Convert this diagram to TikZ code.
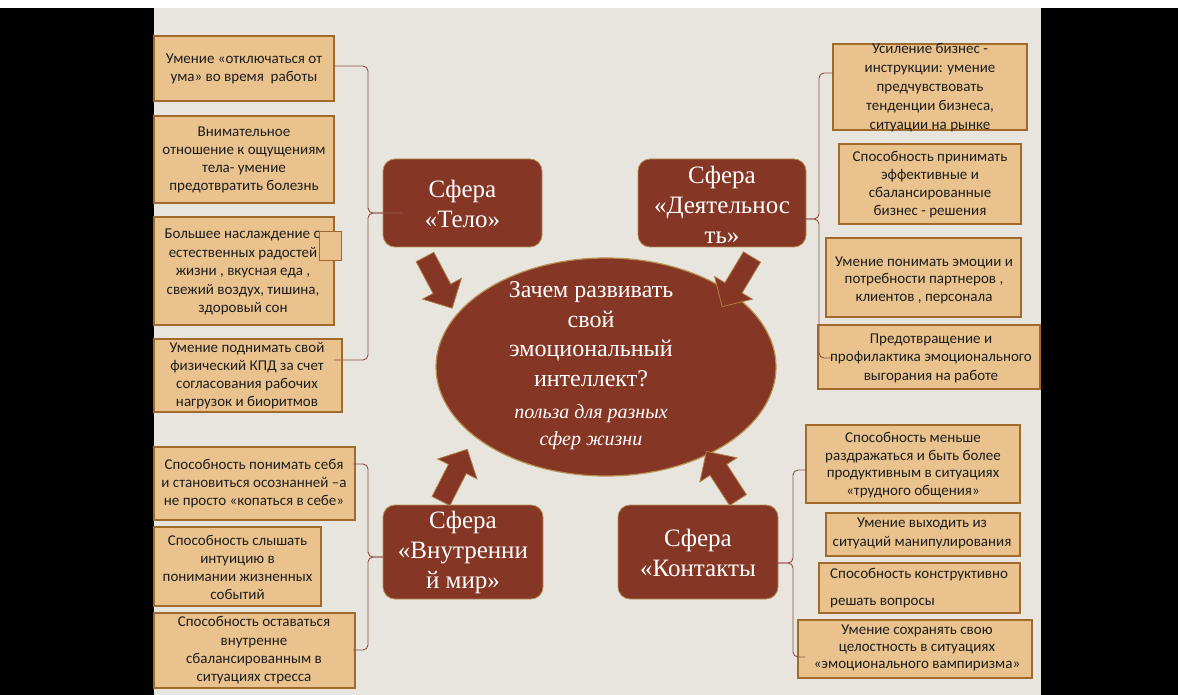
\documentclass[tikz,border=0pt]{standalone}
\usepackage{fontspec}
\setmainfont{Liberation Serif}
\newfontfamily\boxfont{Carlito}
\usetikzlibrary{shapes.geometric}
\definecolor{bgc}{HTML}{E7E5DE}
\definecolor{tanfill}{HTML}{E9C28D}
\definecolor{tanborder}{HTML}{A06A2C}
\definecolor{sphfill}{HTML}{853624}
\definecolor{goldb}{HTML}{B89050}
\definecolor{bracec}{HTML}{8E4F45}
\definecolor{textc}{HTML}{1E1E1E}
\newcommand\blockarrow[3]{%
  \filldraw[fill=sphfill, draw=goldb!80!sphfill, line width=0.8pt, shift={(#1,#2)}, rotate=#3]
    (0,-10) -- (36,-10) -- (36,-22) -- (58,0) -- (36,22) -- (36,10) -- (0,10) -- cycle;}
\begin{document}
\begin{tikzpicture}[x=1pt,y=-1pt,
  tanbox/.style={draw=tanborder, fill=tanfill, line width=1.3pt, inner sep=0pt},
  boxtext/.style={font=\boxfont\fontsize{15}{18}\selectfont, align=center, text=textc, inner sep=0pt},
  sphere/.style={draw=goldb, fill=sphfill, line width=0.8pt, rounded corners=12pt, inner sep=0pt},
  spheretext/.style={text=white, font=\fontsize{25}{30}\selectfont, align=center, inner sep=0pt},
  brace/.style={draw=bracec, line width=0.9pt, rounded corners=5pt}]
\useasboundingbox (0,0) rectangle (1178,695);
\fill[white] (0,0) rectangle (1178,8);
\fill[black] (0,8) rectangle (154,695);
\fill[black] (1041,8) rectangle (1178,695);
\fill[bgc] (154,8) rectangle (1041,695);

% central ellipse
\node[ellipse, draw=goldb, fill=sphfill, line width=1.2pt, minimum width=340, minimum height=218, inner sep=0pt] (E) at (606,367) {};

% sphere boxes
\node[sphere, minimum width=159, minimum height=88] (Telo) at (462.5,203) {};
\node[sphere, minimum width=168, minimum height=88] (Deyat) at (722,203) {};
\node[sphere, minimum width=160, minimum height=94] (Vnutr) at (463,552) {};
\node[sphere, minimum width=160, minimum height=94] (Kont) at (698,552) {};

% block arrows
\blockarrow{425}{257}{-62}
\blockarrow{752}{257}{-121}
\blockarrow{441}{501}{63}
\blockarrow{738}{500}{123}

% tan boxes
\node[tanbox, minimum width=180, minimum height=65] (A1) at (244,68.5) {};
\node[tanbox, minimum width=180, minimum height=87] (A2) at (244,159.5) {};
\node[tanbox, minimum width=180, minimum height=108] (A3) at (244,271) {};
\node[tanbox, minimum width=188, minimum height=73] (A4) at (248,375.5) {};
\node[tanbox, minimum width=201, minimum height=73] (D1) at (254.5,483.5) {};
\node[tanbox, minimum width=167, minimum height=79] (D2) at (237.5,566.5) {};
\node[tanbox, minimum width=201, minimum height=75] (D3) at (254.5,650.5) {};
\node[tanbox, minimum width=194, minimum height=86] (B1) at (930,87) {};
\node[tanbox, minimum width=182, minimum height=80] (B2) at (930,184) {};
\node[tanbox, minimum width=195, minimum height=79] (B3) at (923.5,277.5) {};
\node[tanbox, minimum width=222, minimum height=64] (B4) at (929,357) {};
\node[tanbox, minimum width=214, minimum height=78] (C1) at (913,464) {};
\node[tanbox, minimum width=194, minimum height=43] (C2) at (923,534.5) {};
\node[tanbox, minimum width=201, minimum height=50] (C3) at (919.5,588) {};
\node[tanbox, minimum width=234, minimum height=58] (C4) at (915,649) {};

% braces
\coordinate (lt1) at (334,66);  \coordinate (lt2) at (334,360);
\coordinate (ltm) at (368,213); \coordinate (lttip) at (402,213);
\coordinate (lb1) at (353,464); \coordinate (lb2) at (353,650);
\coordinate (lbm) at (368,557); \coordinate (lbtip) at (383,557);
\coordinate (rt1) at (833,73);  \coordinate (rt2) at (833,358);
\coordinate (rtm) at (819,219); \coordinate (rttip) at (806,219);
\coordinate (rb1) at (806,470); \coordinate (rb2) at (805,657);
\coordinate (rbm) at (793,563); \coordinate (rbtip) at (778,563);
\draw[brace] (lt1) -| (ltm) -- (lttip);
\draw[brace] (lt2) -| (ltm) -- (lttip);
\draw[brace] (lb1) -| (lbm) -- (lbtip);
\draw[brace] (lb2) -| (lbm) -- (lbtip);
\draw[brace] (rt1) -| (rtm) -- (rttip);
\draw[brace] (rt2) -| (rtm) -- (rttip);
\draw[brace] (rb1) -| (rbm) -- (rbtip);
\draw[brace] (rb2) -| (rbm) -- (rbtip);

% texts in tan boxes
\node[boxtext] (A1t) at (244,69) {Умение «отключаться от\\ума» во время\ \ работы};
\node[boxtext] (A2t) at (244,160) {Внимательное\\отношение к ощущениям\\тела- умение\\предотвратить болезнь};
\node[boxtext, font=\boxfont\fontsize{15}{18.5}\selectfont] (A3t) at (243,272) {Большее наслаждение о\\естественных радостей\\жизни , вкусная еда ,\\свежий воздух, тишина,\\здоровый сон};
\node[tanbox, minimum width=22, minimum height=28, line width=1pt] (A3s) at (330,246) {};
\node[boxtext] (A4t) at (247,375.5) {Умение поднимать свой\\физический КПД за счет\\согласования рабочих\\нагрузок и биоритмов};
\node[boxtext] (D1t) at (254,484) {Способность понимать себя\\и становиться осознанней –а\\не просто «копаться в себе»};
\node[boxtext] (D2t) at (237.5,567) {Способность слышать\\интуицию в\\понимании жизненных\\событий};
\node[boxtext, font=\boxfont\fontsize{15}{18.3}\selectfont] (D3t) at (254,650.5) {Способность оставаться\\внутренне\\сбалансированным в\\ситуациях стресса};
\node[boxtext, font=\boxfont\fontsize{15}{19}\selectfont] (B1t) at (930,88) {Усиление бизнес -\\инструкции: умение\\предчувствовать\\тенденции бизнеса,\\ситуации на рынке};
\node[boxtext] (B2t) at (930,185) {Способность принимать\\эффективные и\\сбалансированные\\бизнес - решения};
\node[boxtext, font=\boxfont\fontsize{15}{17.5}\selectfont] (B3t) at (924,280) {Умение понимать эмоции и\\потребности партнеров ,\\клиентов , персонала};
\node[boxtext, font=\boxfont\fontsize{15}{18.5}\selectfont] (B4t) at (931,358) {Предотвращение и\\профилактика эмоционального\\выгорания на работе};
\node[boxtext, font=\boxfont\fontsize{15}{17.7}\selectfont] (C1t) at (913,465) {Способность меньше\\раздражаться и быть более\\продуктивным в ситуациях\\«трудного общения»};
\node[boxtext, font=\boxfont\fontsize{15}{19}\selectfont] (C2t) at (922,533.5) {Умение выходить из\\ситуаций манипулирования};
\node[boxtext, align=left, anchor=west, font=\boxfont\fontsize{15}{27}\selectfont] (C3t) at (830,588.5) {Способность конструктивно\\решать вопросы};
\node[boxtext, font=\boxfont\fontsize{15}{17}\selectfont] (C4t) at (917,648) {Умение сохранять свою\\целостность в ситуациях\\«эмоционального вампиризма»};

% sphere texts
\node[spheretext] (Telot) at (462.5,204) {Сфера\\«Тело»};
\node[spheretext] (Deyatt) at (722,205) {Сфера\\«Деятельнос\\ть»};
\node[spheretext] (Vnutrt) at (463,552.5) {Сфера\\«Внутренни\\й мир»};
\node[spheretext] (Kontt) at (698,553) {Сфера\\«Контакты};

% ellipse text
\node[text=white, align=center, inner sep=0pt, font=\fontsize{24}{29.5}\selectfont] (E1) at (591,334) {Зачем развивать\\свой\\эмоциональный\\интеллект?};
\node[text=white, align=center, inner sep=0pt, font=\itshape\fontsize{20}{27}\selectfont] (E2) at (591,427) {польза для разных\\сфер жизни};
\end{tikzpicture}
\end{document}
